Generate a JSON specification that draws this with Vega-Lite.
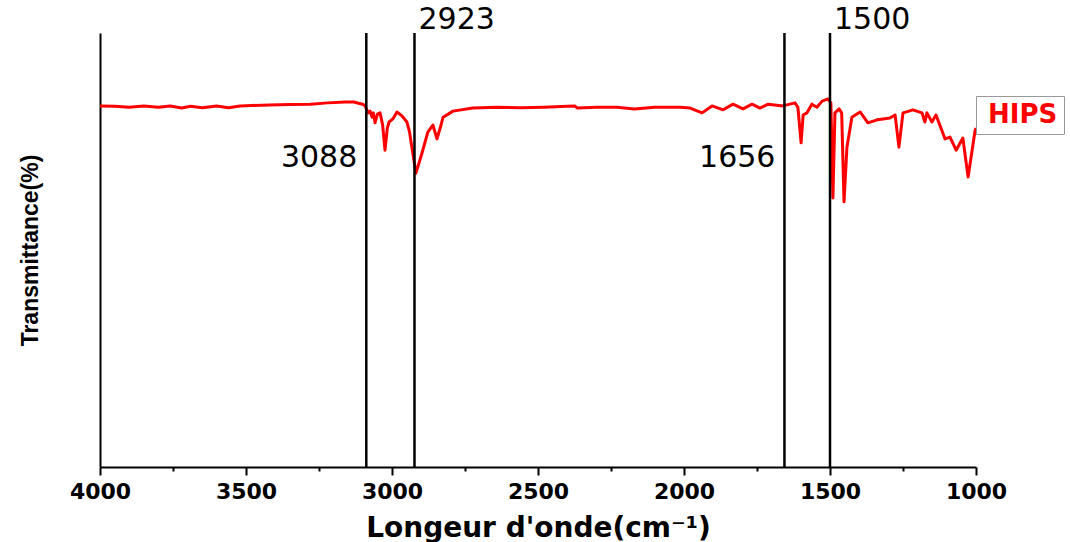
{
  "$schema": "https://vega.github.io/schema/vega-lite/v6.json",
  "width": 876,
  "height": 434,
  "autosize": {"type": "none"},
  "padding": {"left": 100, "top": 33, "right": 94, "bottom": 75},
  "background": "white",
  "config": {
    "view": {"stroke": null},
    "axis": {"domainColor": "black", "domainWidth": 2, "tickColor": "black", "tickWidth": 2, "labelColor": "black", "titleColor": "black", "grid": false}
  },
  "datasets": {
    "spectrum": [
      {"wn": 4000, "t": 83.2, "s": "HIPS"}, {"wn": 3950, "t": 83.1, "s": "HIPS"}, {"wn": 3900, "t": 82.9, "s": "HIPS"},
      {"wn": 3850, "t": 83.2, "s": "HIPS"}, {"wn": 3800, "t": 82.9, "s": "HIPS"}, {"wn": 3760, "t": 83.2, "s": "HIPS"},
      {"wn": 3720, "t": 82.7, "s": "HIPS"}, {"wn": 3690, "t": 83.1, "s": "HIPS"}, {"wn": 3650, "t": 82.8, "s": "HIPS"},
      {"wn": 3600, "t": 83.2, "s": "HIPS"}, {"wn": 3560, "t": 82.8, "s": "HIPS"}, {"wn": 3520, "t": 83.2, "s": "HIPS"},
      {"wn": 3480, "t": 83.3, "s": "HIPS"}, {"wn": 3420, "t": 83.4, "s": "HIPS"}, {"wn": 3350, "t": 83.5, "s": "HIPS"},
      {"wn": 3280, "t": 83.6, "s": "HIPS"}, {"wn": 3220, "t": 83.9, "s": "HIPS"}, {"wn": 3160, "t": 84.1, "s": "HIPS"},
      {"wn": 3130, "t": 84.1, "s": "HIPS"}, {"wn": 3115, "t": 83.8, "s": "HIPS"}, {"wn": 3100, "t": 83.6, "s": "HIPS"},
      {"wn": 3092, "t": 83.2, "s": "HIPS"}, {"wn": 3082, "t": 81.6, "s": "HIPS"}, {"wn": 3075, "t": 82.0, "s": "HIPS"},
      {"wn": 3068, "t": 80.6, "s": "HIPS"}, {"wn": 3064, "t": 81.6, "s": "HIPS"}, {"wn": 3058, "t": 79.3, "s": "HIPS"},
      {"wn": 3050, "t": 81.3, "s": "HIPS"}, {"wn": 3041, "t": 81.6, "s": "HIPS"}, {"wn": 3032, "t": 78.8, "s": "HIPS"},
      {"wn": 3024, "t": 73.0, "s": "HIPS"}, {"wn": 3016, "t": 78.1, "s": "HIPS"}, {"wn": 3010, "t": 79.5, "s": "HIPS"},
      {"wn": 2997, "t": 80.2, "s": "HIPS"}, {"wn": 2983, "t": 81.8, "s": "HIPS"}, {"wn": 2966, "t": 80.9, "s": "HIPS"},
      {"wn": 2949, "t": 79.5, "s": "HIPS"}, {"wn": 2940, "t": 77.2, "s": "HIPS"}, {"wn": 2932, "t": 73.7, "s": "HIPS"},
      {"wn": 2918, "t": 67.7, "s": "HIPS"}, {"wn": 2897, "t": 72.4, "s": "HIPS"}, {"wn": 2877, "t": 77.2, "s": "HIPS"},
      {"wn": 2860, "t": 78.8, "s": "HIPS"}, {"wn": 2846, "t": 75.6, "s": "HIPS"}, {"wn": 2835, "t": 78.1, "s": "HIPS"},
      {"wn": 2825, "t": 80.6, "s": "HIPS"}, {"wn": 2791, "t": 82.0, "s": "HIPS"}, {"wn": 2723, "t": 82.7, "s": "HIPS"},
      {"wn": 2640, "t": 82.9, "s": "HIPS"}, {"wn": 2560, "t": 82.8, "s": "HIPS"}, {"wn": 2480, "t": 82.9, "s": "HIPS"},
      {"wn": 2400, "t": 83.1, "s": "HIPS"}, {"wn": 2374, "t": 83.2, "s": "HIPS"}, {"wn": 2365, "t": 82.7, "s": "HIPS"},
      {"wn": 2300, "t": 82.9, "s": "HIPS"}, {"wn": 2230, "t": 82.9, "s": "HIPS"}, {"wn": 2170, "t": 82.5, "s": "HIPS"},
      {"wn": 2100, "t": 82.9, "s": "HIPS"}, {"wn": 2050, "t": 82.9, "s": "HIPS"}, {"wn": 2014, "t": 82.9, "s": "HIPS"},
      {"wn": 1979, "t": 82.7, "s": "HIPS"}, {"wn": 1938, "t": 81.6, "s": "HIPS"}, {"wn": 1904, "t": 83.2, "s": "HIPS"},
      {"wn": 1866, "t": 82.3, "s": "HIPS"}, {"wn": 1832, "t": 83.6, "s": "HIPS"}, {"wn": 1798, "t": 82.5, "s": "HIPS"},
      {"wn": 1767, "t": 83.6, "s": "HIPS"}, {"wn": 1740, "t": 82.7, "s": "HIPS"}, {"wn": 1712, "t": 83.6, "s": "HIPS"},
      {"wn": 1661, "t": 83.2, "s": "HIPS"}, {"wn": 1620, "t": 83.9, "s": "HIPS"}, {"wn": 1610, "t": 82.9, "s": "HIPS"},
      {"wn": 1599, "t": 74.7, "s": "HIPS"}, {"wn": 1592, "t": 81.1, "s": "HIPS"}, {"wn": 1579, "t": 81.6, "s": "HIPS"},
      {"wn": 1562, "t": 83.6, "s": "HIPS"}, {"wn": 1545, "t": 82.9, "s": "HIPS"}, {"wn": 1527, "t": 84.3, "s": "HIPS"},
      {"wn": 1507, "t": 84.8, "s": "HIPS"}, {"wn": 1497, "t": 83.9, "s": "HIPS"}, {"wn": 1490, "t": 62.0, "s": "HIPS"},
      {"wn": 1483, "t": 81.6, "s": "HIPS"}, {"wn": 1469, "t": 82.5, "s": "HIPS"}, {"wn": 1460, "t": 81.6, "s": "HIPS"},
      {"wn": 1452, "t": 61.1, "s": "HIPS"}, {"wn": 1442, "t": 73.7, "s": "HIPS"}, {"wn": 1425, "t": 80.6, "s": "HIPS"},
      {"wn": 1397, "t": 81.8, "s": "HIPS"}, {"wn": 1370, "t": 79.3, "s": "HIPS"}, {"wn": 1339, "t": 80.0, "s": "HIPS"},
      {"wn": 1318, "t": 80.2, "s": "HIPS"}, {"wn": 1295, "t": 80.4, "s": "HIPS"}, {"wn": 1277, "t": 81.1, "s": "HIPS"},
      {"wn": 1264, "t": 73.7, "s": "HIPS"}, {"wn": 1250, "t": 81.6, "s": "HIPS"}, {"wn": 1216, "t": 82.3, "s": "HIPS"},
      {"wn": 1185, "t": 81.6, "s": "HIPS"}, {"wn": 1175, "t": 79.5, "s": "HIPS"}, {"wn": 1168, "t": 81.6, "s": "HIPS"},
      {"wn": 1151, "t": 79.5, "s": "HIPS"}, {"wn": 1137, "t": 81.1, "s": "HIPS"}, {"wn": 1106, "t": 75.6, "s": "HIPS"},
      {"wn": 1089, "t": 76.0, "s": "HIPS"}, {"wn": 1068, "t": 73.0, "s": "HIPS"}, {"wn": 1045, "t": 75.8, "s": "HIPS"},
      {"wn": 1027, "t": 66.8, "s": "HIPS"}, {"wn": 1003, "t": 77.6, "s": "HIPS"}, {"wn": 1000, "t": 78.1, "s": "HIPS"}
    ],
    "marks": [
      {"wn": 3088, "label": "3088", "ly": 71.2, "side": "left"},
      {"wn": 2923, "label": "2923", "ly": 103, "side": "right"},
      {"wn": 1656, "label": "1656", "ly": 71.2, "side": "left"},
      {"wn": 1500, "label": "1500", "ly": 103, "side": "right"}
    ]
  },
  "layer": [
    {
      "data": {"name": "spectrum"},
      "mark": {"type": "line", "strokeWidth": 3, "clip": false, "strokeJoin": "round"},
      "encoding": {
        "x": {"field": "wn", "type": "quantitative",
          "scale": {"domain": [4000, 1000], "nice": false, "zero": false},
          "axis": {
            "values": [4000, 3750, 3500, 3250, 3000, 2750, 2500, 2250, 2000, 1750, 1500, 1250, 1000],
            "labelExpr": "datum.value % 500 === 0 ? datum.value : ''",
            "tickSize": {"condition": {"test": "datum.value % 500 === 0", "value": 8}, "value": 4},
            "labelFont": "DejaVu Sans", "labelFontWeight": "bold", "labelFontSize": 22,
            "labelPadding": 6, "labelFlush": false, "labelOverlap": false,
            "title": "Longeur d'onde(cm⁻¹)", "titleFont": "DejaVu Sans", "titleFontWeight": "bold",
            "titleFontSize": 28, "titlePadding": 12
          }},
        "y": {"field": "t", "type": "quantitative",
          "scale": {"domain": [0, 100], "nice": false},
          "axis": {"labels": false, "ticks": false, "title": "Transmittance(%)",
            "titleFont": "Liberation Sans", "titleFontWeight": "bold", "titleFontSize": 23, "titlePadding": 58}},
        "color": {"field": "s", "type": "nominal",
          "scale": {"domain": ["HIPS"], "range": ["#ff0000"]},
          "legend": {"orient": "none", "legendX": 876, "legendY": 63, "title": null,
            "symbolSize": 0, "symbolStrokeWidth": 0, "symbolOpacity": 0, "labelOffset": -20,
            "labelFont": "DejaVu Sans", "labelFontWeight": "bold", "labelFontSize": 26, "labelColor": "#ff0000",
            "strokeColor": "#999999", "padding": 6, "fillColor": "white"}}
      }
    },
    {
      "data": {"name": "marks"},
      "mark": {"type": "rule", "color": "black", "strokeWidth": 2.5},
      "encoding": {"x": {"field": "wn", "type": "quantitative"}}
    },
    {
      "data": {"name": "marks"},
      "transform": [{"filter": "datum.side === 'left'"}],
      "mark": {"type": "text", "align": "right", "baseline": "middle", "dx": -9, "font": "DejaVu Sans", "fontSize": 30, "color": "black", "clip": false},
      "encoding": {
        "x": {"field": "wn", "type": "quantitative"},
        "y": {"field": "ly", "type": "quantitative"},
        "text": {"field": "label"}
      }
    },
    {
      "data": {"name": "marks"},
      "transform": [{"filter": "datum.side === 'right'"}],
      "mark": {"type": "text", "align": "left", "baseline": "middle", "dx": 4, "font": "DejaVu Sans", "fontSize": 30, "color": "black", "clip": false},
      "encoding": {
        "x": {"field": "wn", "type": "quantitative"},
        "y": {"field": "ly", "type": "quantitative"},
        "text": {"field": "label"}
      }
    }
  ]
}
